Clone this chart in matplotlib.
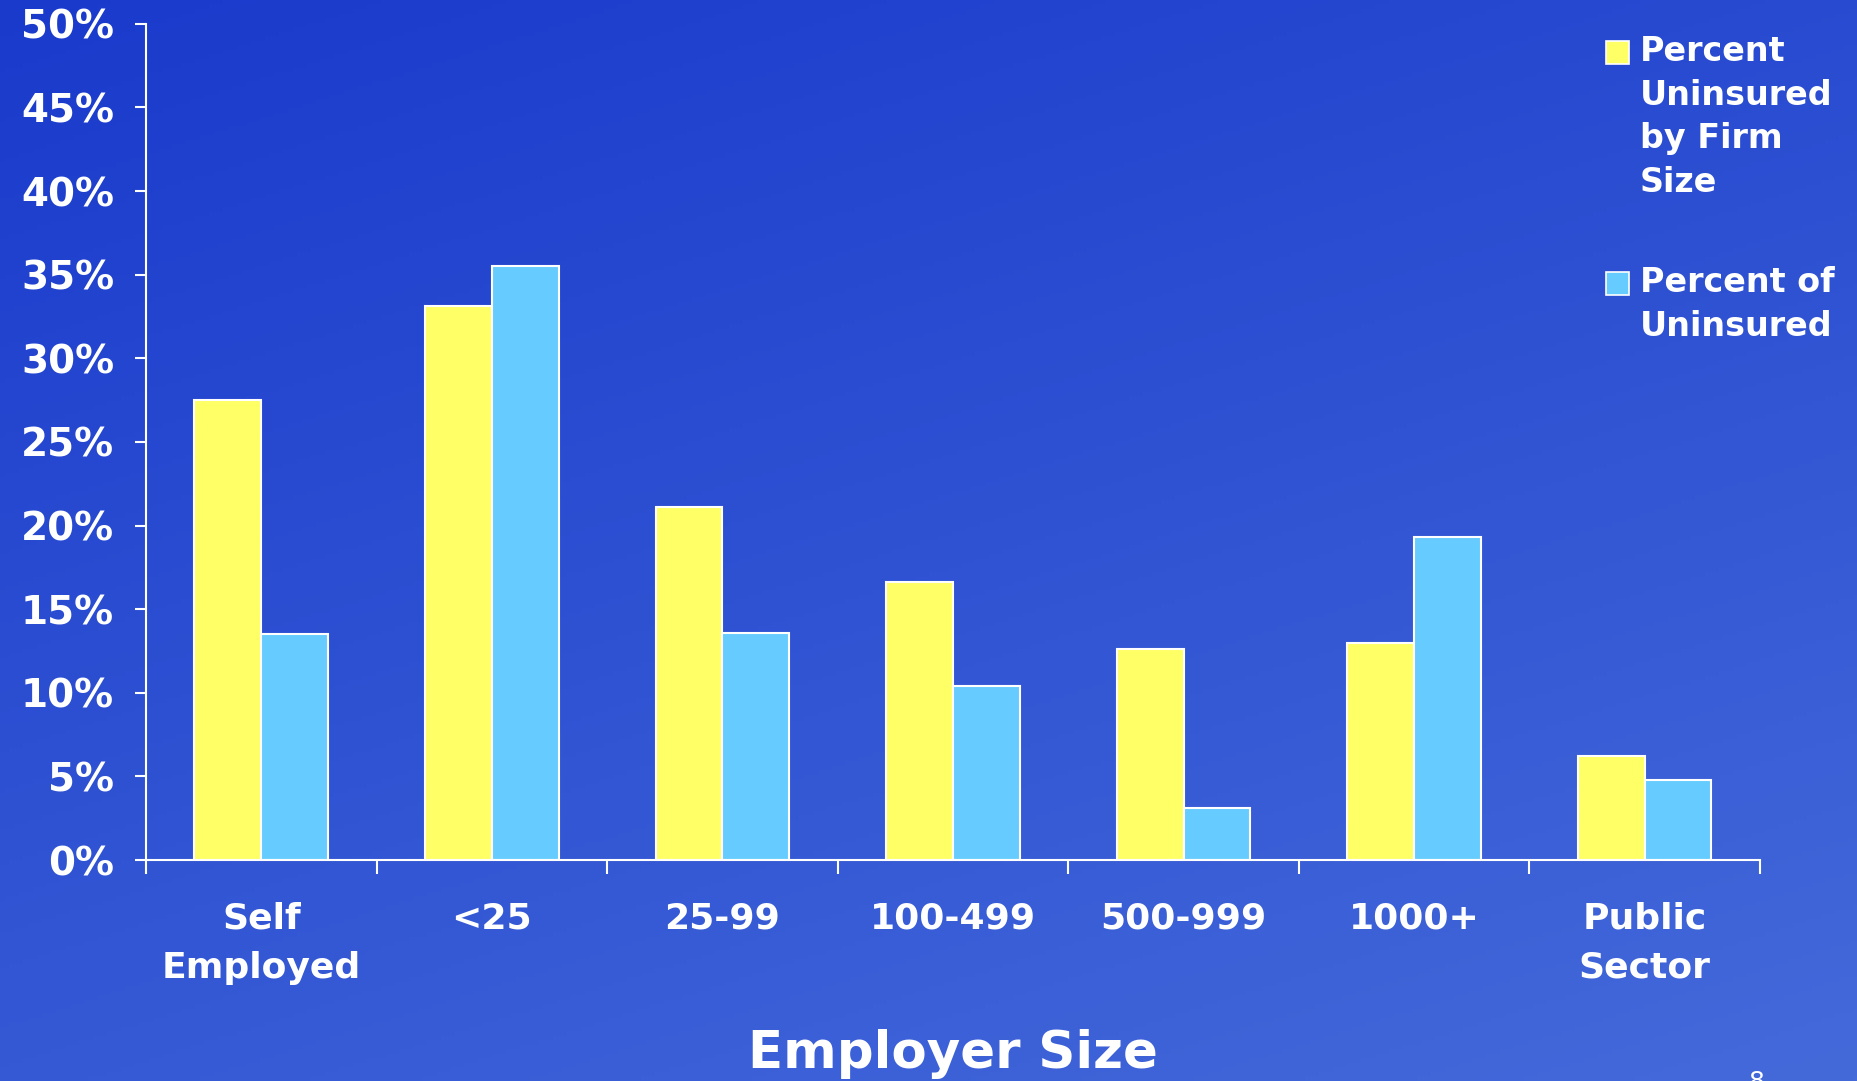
import numpy as np
import matplotlib
matplotlib.use("Agg")
import matplotlib.pyplot as plt
from matplotlib.patches import Rectangle

# firm-size categories and the two series (percent)
categories = ["Self\nEmployed", "<25", "25-99", "100-499", "500-999", "1000+", "Public\nSector"]
pct_uninsured_by_size = [27.5, 33.1, 21.1, 16.6, 12.6, 13.0, 6.2]
pct_of_uninsured = [13.5, 35.5, 13.6, 10.4, 3.1, 19.3, 4.8]
series_labels = ["Percent\nUninsured\nby Firm\nSize", "Percent of\nUninsured"]
y_ticks = [0, 5, 10, 15, 20, 25, 30, 35, 40, 45, 50]

yellow = "#FFFF66"
light_blue = "#66CCFF"

plt.rcParams["font.family"] = ["DejaVu Sans"]
plt.rcParams["font.weight"] = "bold"

fig = plt.figure(figsize=(18.58, 10.81), dpi=100)

# diagonal blue gradient for the slide background
bg = fig.add_axes([0, 0, 1, 1])
gx, gy = np.meshgrid(np.linspace(0, 1, 400), np.linspace(0, 1, 240))
t = np.clip(0.35 * gx + 0.65 * gy, 0, 1)
c0 = np.array([26, 58, 204]) / 255.0
c1 = np.array([68, 106, 218]) / 255.0
img = c0[None, None, :] * (1 - t[..., None]) + c1[None, None, :] * t[..., None]
bg.imshow(img, aspect="auto", extent=[0, 1, 0, 1], origin="upper")
bg.axis("off")

ax = fig.add_axes([0.0786, 0.2044, 0.8686, 0.7736])
ax.patch.set_alpha(0)

x = np.arange(len(categories))
w = 0.29
ax.bar(x - w / 2, pct_uninsured_by_size, w, color=yellow, edgecolor="white", linewidth=1.5)
ax.bar(x + w / 2, pct_of_uninsured, w, color=light_blue, edgecolor="white", linewidth=1.5)

ax.set_xlim(-0.5, len(categories) - 0.5)
ax.set_ylim(0, 50)

for side in ["top", "right"]:
    ax.spines[side].set_visible(False)
for side in ["left", "bottom"]:
    ax.spines[side].set_color("white")
    ax.spines[side].set_linewidth(1.5)

# y axis
ax.set_yticks(y_ticks)
ax.set_yticklabels(["%d%%" % v for v in y_ticks])
ax.tick_params(axis="y", colors="white", length=8, width=1.5, pad=15, labelsize=28)
for lbl in ax.get_yticklabels():
    lbl.set_fontweight("bold")

# x axis: tick marks at group boundaries, labels centred under groups
ax.set_xticks(np.arange(len(categories) + 1) - 0.5)
ax.set_xticklabels([])
ax.tick_params(axis="x", which="major", colors="white", length=10, width=1.5)
ax.set_xticks(x, minor=True)
ax.set_xticklabels(categories, minor=True, fontsize=26, fontweight="bold", linespacing=1.55)
ax.tick_params(axis="x", which="minor", length=0, pad=30, labelcolor="white")

ax.set_xlabel("Employer Size", fontsize=37, fontweight="bold", color="white", labelpad=32)

# legend: square swatch beside the first line of each label
legend_tops = [0.962, 0.748]
for color, label, top in zip([yellow, light_blue], series_labels, legend_tops):
    fig.patches.append(Rectangle((0.8645, top - 0.021), 0.0124, 0.021, transform=fig.transFigure,
                                 facecolor=color, edgecolor="white", linewidth=1.2))
    fig.text(0.8825, top + 0.006, label, color="white", fontsize=24, fontweight="bold",
             ha="left", va="top", linespacing=1.42)

fig.text(0.945, -0.012, "8", color="white", fontsize=18, fontweight="normal", ha="center", va="bottom")

fig.savefig("out.png", dpi=100)
